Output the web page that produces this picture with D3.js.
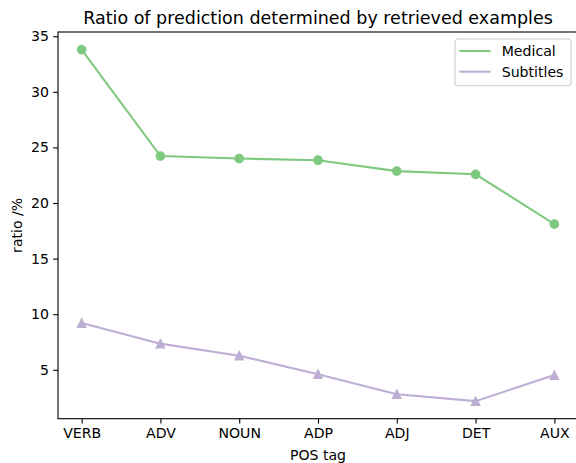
<!DOCTYPE html>
<html><head><meta charset="utf-8">
<script src="https://cdn.jsdelivr.net/npm/d3@7"></script>
<style>body{margin:0;background:#fff}svg{display:block;font-family:"DejaVu Sans",sans-serif}</style>
</head><body><div id="chart"></div>
<script>
const categories = ["VERB","ADV","NOUN","ADP","ADJ","DET","AUX"];
const medical = [33.8, 24.22, 24.0, 23.85, 22.87, 22.58, 18.1];
const subtitles = [9.2, 7.35, 6.27, 4.6, 2.8, 2.18, 4.52];
const yTicks = [5,10,15,20,25,30,35];
const seriesNames = ["Medical","Subtitles"];
const colors = ["#7fc97f","#beaed4"];

const W=576,H=463;
const m={left:58,top:32,right:578,bottom:418.7};
const svg=d3.select("#chart").append("svg").attr("width",W).attr("height",H);
const x=d3.scaleLinear().domain([-0.3,6.3]).range([m.left,m.right]);
const all=medical.concat(subtitles);
const lo=d3.min(all),hi=d3.max(all),pad=(hi-lo)*0.05;
const y=d3.scaleLinear().domain([lo-pad,hi+pad]).range([m.bottom,m.top]);

const fs=14.1;
const xAxis=d3.axisBottom(x).tickValues(d3.range(categories.length)).tickFormat(i=>categories[i]).tickSize(4.86).tickPadding(4.2);
const gx=svg.append("g").attr("transform",`translate(0,${m.bottom})`).call(xAxis);
const yAxis=d3.axisLeft(y).tickValues(yTicks).tickSize(4.86).tickPadding(4.2);
const gy=svg.append("g").attr("transform",`translate(${m.left},0)`).call(yAxis);
[gx,gy].forEach(g=>{g.select(".domain").remove();g.selectAll("line").attr("stroke","#000").attr("stroke-width",1.1);g.selectAll("text").attr("font-size",fs).attr("fill","#000").attr("font-family","DejaVu Sans");});
svg.append("rect").attr("x",m.left).attr("y",m.top).attr("width",m.right-m.left).attr("height",m.bottom-m.top).attr("fill","none").attr("stroke","#000").attr("stroke-width",1.1);

const data=[medical,subtitles];
const line=d3.line().x((d,i)=>x(i)).y(d=>y(d));
const h=4.15;
const tri=`M0,${-h}L${h},${h}L${-h},${h}Z`;
data.forEach((s,k)=>{
  svg.append("path").datum(s).attr("d",line).attr("fill","none").attr("stroke",colors[k]).attr("stroke-width",2.08);
  const sel=svg.selectAll(null).data(s).enter();
  if(k===0){
    sel.append("circle").attr("cx",(d,i)=>x(i)).attr("cy",d=>y(d)).attr("r",4.15)
      .attr("fill",colors[k]).attr("stroke",colors[k]).attr("stroke-width",1.39);
  } else {
    sel.append("path").attr("d",tri).attr("transform",(d,i)=>`translate(${x(i)},${y(d)})`)
      .attr("fill",colors[k]).attr("stroke",colors[k]).attr("stroke-width",1.39).attr("stroke-linejoin","miter");
  }
});

svg.append("text").attr("x",(m.left+m.right)/2).attr("y",23.7).attr("text-anchor","middle").attr("font-size",17.5).text("Ratio of prediction determined by retrieved examples");
svg.append("text").attr("x",(m.left+m.right)/2).attr("y",460).attr("text-anchor","middle").attr("font-size",fs).text("POS tag");
svg.append("text").attr("transform",`translate(22,${(m.top+m.bottom)/2}) rotate(-90)`).attr("text-anchor","middle").attr("font-size",fs).text("ratio /%");

const lg=svg.append("g");
lg.append("rect").attr("x",455).attr("y",39).attr("width",116).attr("height",46.7).attr("rx",3).attr("fill","#fff").attr("fill-opacity",0.8).attr("stroke","#cccccc").attr("stroke-width",1.1);
seriesNames.forEach((n,k)=>{
  const cy=51+k*20.7;
  lg.append("line").attr("x1",459.3).attr("x2",490.7).attr("y1",cy).attr("y2",cy).attr("stroke",colors[k]).attr("stroke-width",2.08);
  lg.append("text").attr("x",501.7).attr("y",cy).attr("dy","0.36em").attr("font-size",fs).text(n);
});
</script></body></html>
